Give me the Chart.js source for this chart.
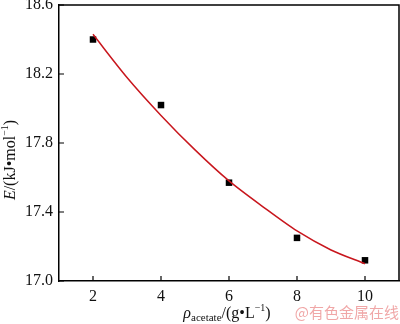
<!DOCTYPE html>
<html>
<head>
<meta charset="utf-8">
<script src="https://cdn.jsdelivr.net/npm/chart.js@4"></script>
<style>
  html, body { margin: 0; padding: 0; background: #fff; }
  #wrap { width: 400px; height: 324px; }
</style>
</head>
<body>
<div id="wrap"><canvas id="chart" width="400" height="324"></canvas></div>
<script>
// measured points
const concentration = [2, 4, 6, 8, 10];
const energy = [18.40, 18.02, 17.57, 17.25, 17.12];
// red fitted curve
const fitX = [2, 3, 4, 5, 6, 7, 8, 9, 10];
const fitY = [18.43, 18.18, 17.96, 17.76, 17.58, 17.43, 17.29, 17.18, 17.10];
const xTicks = [2, 4, 6, 8, 10];
const yTicks = [17.0, 17.4, 17.8, 18.2, 18.6];

const serif = '"Liberation Serif", "DejaVu Serif", serif';

// draws mixed text runs: [text, size, style, dy]
function drawRuns(ctx, runs, x, y) {
  let cx = x;
  runs.forEach(r => {
    ctx.font = (r[2] || '') + ' ' + r[1] + 'px ' + serif;
    ctx.fillText(r[0], cx, y + (r[3] || 0));
    cx += ctx.measureText(r[0]).width;
  });
}
function runsWidth(ctx, runs) {
  let w = 0;
  runs.forEach(r => {
    ctx.font = (r[2] || '') + ' ' + r[1] + 'px ' + serif;
    w += ctx.measureText(r[0]).width;
  });
  return w;
}

const decor = {
  id: 'decor',
  afterDraw(chart) {
    const ctx = chart.ctx;
    const a = chart.chartArea;
    const xs = chart.scales.x, ys = chart.scales.y;
    ctx.save();
    ctx.strokeStyle = '#000';
    ctx.lineWidth = 1.5;
    // frame top + right
    ctx.beginPath();
    ctx.moveTo(a.left, a.top);
    ctx.lineTo(a.right, a.top);
    ctx.lineTo(a.right, a.bottom);
    ctx.stroke();
    // inward ticks
    ctx.lineWidth = 1.2;
    ctx.beginPath();
    xTicks.forEach(v => {
      const px = xs.getPixelForValue(v);
      ctx.moveTo(px, a.bottom);
      ctx.lineTo(px, a.bottom - 5);
    });
    yTicks.forEach(v => {
      const py = ys.getPixelForValue(v);
      ctx.moveTo(a.left, py);
      ctx.lineTo(a.left + 5, py);
    });
    ctx.stroke();

    ctx.fillStyle = '#111';
    ctx.textBaseline = 'alphabetic';
    // x title
    const xr = [['ρ', 16, 'italic'], ['acetate', 11, '', 3], ['/(g•L', 16], ['−1', 10, '', -7], [')', 16]];
    const xw = runsWidth(ctx, xr);
    drawRuns(ctx, xr, 227 - xw / 2, 318);
    // y title
    const yr = [['E', 16, 'italic'], ['/(kJ•mol', 16], ['−1', 10, '', -7], [')', 16]];
    const yw = runsWidth(ctx, yr);
    ctx.save();
    ctx.translate(15, 160);
    ctx.rotate(-Math.PI / 2);
    drawRuns(ctx, yr, -yw / 2, 0);
    ctx.restore();
    // watermark
    ctx.fillStyle = 'rgba(232, 120, 120, 0.65)';
    ctx.font = '15px "Noto Sans CJK SC", sans-serif';
    ctx.textAlign = 'right';
    ctx.fillText('@有色金属在线', 399, 318);
    ctx.restore();
  }
};

new Chart(document.getElementById('chart').getContext('2d'), {
  type: 'scatter',
  data: {
    datasets: [{
      label: 'fit',
      data: fitX.map((x, i) => ({ x: x, y: fitY[i] })),
      showLine: true,
      borderColor: '#c8161d',
      borderWidth: 1.5,
      pointRadius: 0,
      tension: 0.3,
      fill: false
    }, {
      label: 'E',
      data: concentration.map((x, i) => ({ x: x, y: energy[i] })),
      pointStyle: 'rect',
      pointRadius: 4.6,
      backgroundColor: '#000',
      borderColor: '#000',
      borderWidth: 0
    }]
  },
  options: {
    responsive: false,
    animation: false,
    layout: { autoPadding: false, padding: { top: 5, right: 1, left: 0, bottom: 0 } },
    plugins: { legend: { display: false }, tooltip: { enabled: false } },
    scales: {
      x: {
        type: 'linear',
        min: 1, max: 11,
        afterBuildTicks: s => { s.ticks = xTicks.map(v => ({ value: v })); },
        afterFit: s => { s.height = 43; s.paddingLeft = 0; s.paddingRight = 0; },
        grid: { display: false, drawTicks: false },
        border: { display: true, color: '#000', width: 1.5 },
        ticks: { color: '#111', padding: 6, maxRotation: 0, font: { family: serif, size: 16 } }
      },
      y: {
        min: 17.0, max: 18.6,
        afterBuildTicks: s => { s.ticks = yTicks.map(v => ({ value: v })); },
        afterFit: s => { s.width = 59; s.paddingTop = 0; s.paddingBottom = 0; },
        grid: { display: false, drawTicks: false },
        border: { display: true, color: '#000', width: 1.5 },
        ticks: { color: '#111', padding: 6, callback: v => v.toFixed(1), font: { family: serif, size: 16 } }
      }
    }
  },
  plugins: [decor]
});
</script>
</body>
</html>
